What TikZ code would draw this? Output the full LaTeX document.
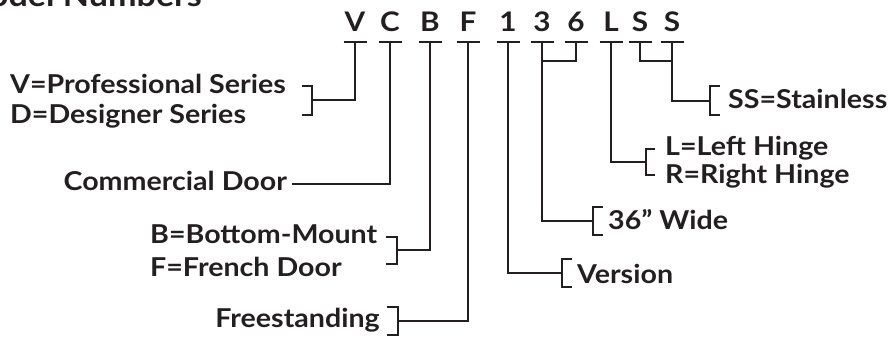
\documentclass[tikz,border=0pt]{standalone}
\usepackage{fontspec}
\setmainfont{Lato}[FakeStretch=1.1]
\definecolor{ink}{HTML}{231F20}
\tikzset{
  lbl/.style={font=\bfseries\fontsize{26}{26}\selectfont, text=ink, inner sep=0pt},
  codeltr/.style={font=\bfseries\fontsize{27}{27}\selectfont, text=ink, inner sep=0pt, anchor=base},
  wire/.style={draw=ink, line width=2.4pt},
}
\begin{document}
\begin{tikzpicture}[x=1pt,y=-1pt]
\useasboundingbox (0,0) rectangle (891,337);
% title (cut off)
\node[lbl, font=\bfseries\fontsize{31}{31}\selectfont, anchor=base east] (title) at (202,7) {Model Numbers};
% code letters
\foreach \n/\x/\t in {V/355/V, C/390/C, B/430/B, F/468/F, one/508/1, three/542/3, six/576/6, L/611/L, Sa/640/S, Sb/672/S}{
  \node[codeltr] (l\n) at (\x,32) {\t};
  \coordinate (t\n) at (\x,42);
  \draw[wire] ([xshift=-11.5pt]t\n) -- ([xshift=11.5pt]t\n);
}
% labels
\node[lbl, anchor=base west] (vps) at (10,93) {V=Professional Series};
\node[lbl, anchor=base west] (dds) at (10,123) {D=Designer Series};
\node[lbl, anchor=base east] (cd) at (287,190) {Commercial Door};
\node[lbl, anchor=base west] (bbm) at (150,243) {B=Bottom-Mount};
\node[lbl, anchor=base west] (ffd) at (150,276) {F=French Door};
\node[lbl, anchor=base east] (fs) at (380,327) {Freestanding};
\node[lbl, anchor=base west] (ver) at (577,283) {Version};
\node[lbl, anchor=base west] (wide) at (608,229) {36” Wide};
\node[lbl, anchor=base west] (lh) at (665,155) {L=Left Hinge};
\node[lbl, anchor=base west] (rh) at (665,183) {R=Right Hinge};
\node[lbl, anchor=base west] (ss) at (728,108) {SS=Stainless};
% bracket coordinates
\coordinate (bV) at (312,100);
\coordinate (cC) at (292,184);
\coordinate (bB) at (397,250);
\coordinate (bF) at (398,321);
\coordinate (bone) at (562,273);
\coordinate (bthree) at (593,221);
\coordinate (bL) at (646,162);
\coordinate (bS) at (710,101);
% brackets
\draw[wire] (302,86) -- (312,86) -- (312,115) -- (302,115);
\draw[wire] (386,237) -- (397,237) -- (397,264) -- (386,264);
\draw[wire] (387,307) -- (398,307) -- (398,335) -- (387,335);
\draw[wire] (572,259) -- (562,259) -- (562,287) -- (572,287);
\draw[wire] (603,207) -- (593,207) -- (593,235) -- (603,235);
\draw[wire] (655,149) -- (646,149) -- (646,175) -- (655,175);
\draw[wire] (720,86) -- (710,86) -- (710,115) -- (720,115);
% connectors
\draw[wire] (tV) |- (bV);
\draw[wire] (tC) |- (cC);
\draw[wire] (tB) |- (bB);
\draw[wire] (tF) |- (bF);
\draw[wire] (tone) |- (bone);
\draw[wire] (tsix) |- (542,61);
\draw[wire] (tthree) |- (bthree);
\draw[wire] (tL) |- (bL);
\draw[wire] (tSa) |- (672,61);
\draw[wire] (tSb) |- (bS);
\end{tikzpicture}
\end{document}
